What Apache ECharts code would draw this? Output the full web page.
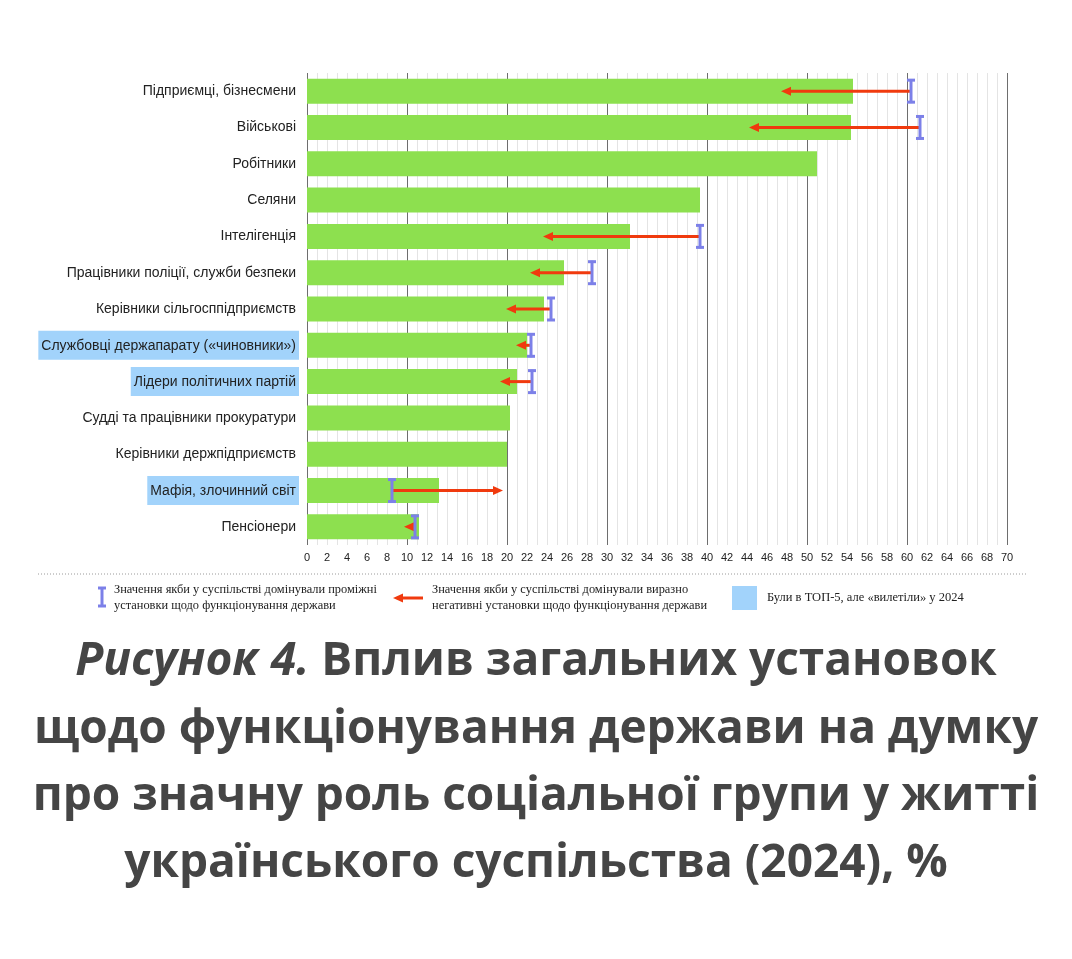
<!DOCTYPE html>
<html>
<head>
<meta charset="utf-8">
<script src="https://cdn.jsdelivr.net/npm/echarts@6/dist/echarts.min.js"></script>
<style>
html,body{margin:0;padding:0;background:#fff;}
#chart{width:1072px;height:959px;}
</style>
</head>
<body>
<div id="chart"></div>
<script>
const categories = [
  'Підприємці, бізнесмени',
  'Військові',
  'Робітники',
  'Селяни',
  'Інтелігенція',
  'Працівники поліції, служби безпеки',
  'Керівники сільгосппідприємств',
  'Службовці держапарату («чиновники»)',
  'Лідери політичних партій',
  'Судді та працівники прокуратури',
  'Керівники держпідприємств',
  'Мафія, злочинний світ',
  'Пенсіонери'
];
const barValues = [54.6, 54.4, 51.0, 39.3, 32.3, 25.7, 23.7, 22.0, 21.0, 20.3, 20.0, 13.2, 11.2];
const intermediateValues = [60.4, 61.3, null, null, 39.3, 28.5, 24.4, 22.4, 22.5, null, null, 8.5, 10.8];
const negativeValues = [47.4, 44.2, null, null, 23.6, 22.3, 19.9, 20.9, 19.3, null, null, 19.6, 9.7];
const droppedFromTop5 = ['Службовці держапарату («чиновники»)', 'Лідери політичних партій', 'Мафія, злочинний світ'];
const xTicks = {min: 0, max: 70, interval: 2};

const titleLines = [
  ['Рисунок 4.', ' Вплив загальних установок'],
  ['', 'щодо функціонування держави на думку'],
  ['', 'про значну роль соціальної групи у житті'],
  ['', 'українського суспільства (2024), %']
];
const legendTexts = [
  ['Значення якби у суспільстві домінували проміжні', 'установки щодо функціонування держави'],
  ['Значення якби у суспільстві домінували виразно', 'негативні установки щодо функціонування держави'],
  ['Були в ТОП-5, але «вилетіли» у 2024']
];

const C_BAR = '#8de04f', C_IBEAM = '#7c80e8', C_ARROW = '#f03a0e', C_HL = '#a2d3fb';

const ibeamData = [];
const arrowData = [];
categories.forEach((c, i) => {
  if (intermediateValues[i] != null) ibeamData.push([intermediateValues[i], i]);
  if (negativeValues[i] != null) arrowData.push([intermediateValues[i], i, negativeValues[i]]);
});

function ibeamShape(x, y, h, w, color) {
  const st = {stroke: color, lineWidth: 3};
  return [
    {type: 'line', shape: {x1: x, y1: y - h / 2, x2: x, y2: y + h / 2}, style: st},
    {type: 'line', shape: {x1: x - w / 2, y1: y - h / 2 + 1, x2: x + w / 2, y2: y - h / 2 + 1}, style: st},
    {type: 'line', shape: {x1: x - w / 2, y1: y + h / 2 - 1, x2: x + w / 2, y2: y + h / 2 - 1}, style: st}
  ];
}
function arrowShape(x1, y, x2, color, headL, headH, lw) {
  const dir = x2 >= x1 ? 1 : -1;
  const base = x2 - dir * headL;
  const els = [];
  if ((base - x1) * dir > 0) {
    els.push({type: 'line', shape: {x1: x1, y1: y, x2: base + dir, y2: y}, style: {stroke: color, lineWidth: lw}});
  }
  els.push({type: 'polygon', shape: {points: [[x2, y], [base, y - headH / 2], [base, y + headH / 2]]}, style: {fill: color}});
  return els;
}

const chart = echarts.init(document.getElementById('chart'), null, {renderer: 'canvas'});

const gridLeft = 307, gridTop = 73, gridRight = 65, gridBottom = 414;

const graphics = [];
// title
const titleY = [669, 737, 804, 871];
titleLines.forEach((ln, k) => {
  graphics.push({
    type: 'text', left: 'center', top: titleY[k] - 30,
    style: {
      text: (ln[0] ? '{i|' + ln[0] + '}' : '') + '{b|' + ln[1] + '}',
      rich: {
        i: {fontFamily: 'Open Sans', fontStyle: 'italic', fontWeight: 'bold', fontSize: 46, fill: '#454545'},
        b: {fontFamily: 'Open Sans', fontWeight: 'bold', fontSize: 46, fill: '#454545'}
      }
    }
  });
});
// dotted separator
graphics.push({type: 'line', shape: {x1: 38, y1: 574, x2: 1027, y2: 574}, style: {stroke: '#9a9a9a', lineWidth: 1, lineDash: [1, 2]}});
// legend 1
graphics.push({type: 'group', children: ibeamShape(102, 597, 20, 8, C_IBEAM)});
const legFont = {fontFamily: 'Liberation Serif', fontSize: 12.4, fill: '#222'};
graphics.push({type: 'text', x: 114, y: 582, style: Object.assign({text: legendTexts[0].join('\n'), lineHeight: 16}, legFont)});
// legend 2
graphics.push({type: 'group', children: arrowShape(423, 598, 393, C_ARROW, 10, 9, 3)});
graphics.push({type: 'text', x: 432, y: 582, style: Object.assign({text: legendTexts[1].join('\n'), lineHeight: 16}, legFont)});
// legend 3
graphics.push({type: 'rect', shape: {x: 732, y: 586, width: 25, height: 24}, style: {fill: C_HL}});
graphics.push({type: 'text', x: 767, y: 591, style: Object.assign({text: legendTexts[2][0]}, legFont, {fontSize: 12.5})});

const option = {
  animation: false,
  backgroundColor: '#fff',
  grid: {left: gridLeft, top: gridTop, right: gridRight, bottom: gridBottom, containLabel: false},
  xAxis: {
    type: 'value', min: xTicks.min, max: xTicks.max, interval: xTicks.interval,
    axisLine: {show: false}, axisTick: {show: false},
    axisLabel: {color: '#222', fontSize: 11, fontFamily: 'Liberation Sans', margin: 7},
    splitLine: {show: true, lineStyle: {color: ['#6e6e6e', '#e4e4e4', '#e4e4e4', '#e4e4e4', '#e4e4e4'], width: 1}},
    minorTick: {show: false, splitNumber: 2},
    minorSplitLine: {show: true, lineStyle: {color: '#e4e4e4', width: 1}}
  },
  yAxis: {
    type: 'category', data: categories, inverse: true,
    axisLine: {show: false}, axisTick: {show: false}, splitLine: {show: false},
    axisLabel: {
      margin: 8,
      formatter: v => (droppedFromTop5.indexOf(v) >= 0 ? '{h|' + v + '}' : '{n|' + v + '}'),
      rich: {
        h: {backgroundColor: C_HL, padding: [8, 3, 7, 3], fontSize: 14, color: '#222', fontFamily: 'Liberation Sans'},
        n: {padding: [0, 3, 0, 3], fontSize: 14, color: '#222', fontFamily: 'Liberation Sans'}
      }
    }
  },
  series: [
    {
      type: 'bar', data: barValues, barWidth: 25,
      itemStyle: {color: C_BAR}, z: 2
    },
    {
      type: 'custom', data: arrowData, encode: {x: [0, 2], y: 1}, z: 3,
      renderItem: (params, api) => {
        const p1 = api.coord([api.value(0), api.value(1)]);
        const p2 = api.coord([api.value(2), api.value(1)]);
        return {type: 'group', children: arrowShape(p1[0], p1[1], p2[0], C_ARROW, 10, 9, 3)};
      }
    },
    {
      type: 'custom', data: ibeamData, encode: {x: 0, y: 1}, z: 4,
      renderItem: (params, api) => {
        const p = api.coord([api.value(0), api.value(1)]);
        return {type: 'group', children: ibeamShape(p[0], p[1], 24, 8, C_IBEAM)};
      }
    }
  ],
  graphic: graphics
};
chart.setOption(option);
</script>
</body>
</html>
